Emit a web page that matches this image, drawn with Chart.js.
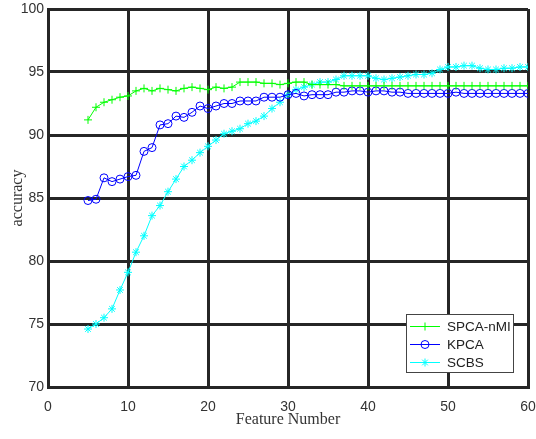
<!DOCTYPE html>
<html>
<head>
<meta charset="utf-8">
<script src="https://cdn.jsdelivr.net/npm/chart.js@4"></script>
<style>
  html, body { margin: 0; padding: 0; background: #fff; }
  #wrap { width: 536px; height: 439px; }
</style>
</head>
<body>
<div id="wrap"><canvas id="chart" width="536" height="439"></canvas></div>
<script>
/* ── Data ── */
const featureNumbers = [5, 6, 7, 8, 9, 10, 11, 12, 13, 14, 15, 16, 17, 18, 19, 20,
  21, 22, 23, 24, 25, 26, 27, 28, 29, 30, 31, 32, 33, 34, 35, 36, 37, 38, 39, 40,
  41, 42, 43, 44, 45, 46, 47, 48, 49, 50, 51, 52, 53, 54, 55, 56, 57, 58, 59, 60];

const spcaNmi = [91.2, 92.2, 92.6, 92.8, 93.0, 93.1, 93.5, 93.7, 93.5, 93.7, 93.6, 93.5,
  93.7, 93.8, 93.7, 93.6, 93.8, 93.7, 93.8, 94.2, 94.2, 94.2, 94.1, 94.1, 94.0, 94.1,
  94.2, 94.2, 94.0, 94.0, 94.0, 94.0, 93.9, 93.9, 93.9, 93.9, 93.9, 93.9, 93.9, 93.9,
  93.9, 93.9, 93.9, 93.9, 93.9, 93.9, 93.9, 93.9, 93.9, 93.9, 93.9, 93.9, 93.9, 93.9,
  93.9, 93.9];

const kpca = [84.8, 84.9, 86.6, 86.3, 86.5, 86.7, 86.8, 88.7, 89.0, 90.8, 90.9, 91.5,
  91.4, 91.8, 92.3, 92.1, 92.3, 92.5, 92.5, 92.7, 92.7, 92.7, 93.0, 93.0, 93.0, 93.2,
  93.3, 93.1, 93.2, 93.2, 93.2, 93.4, 93.4, 93.5, 93.5, 93.4, 93.5, 93.5, 93.4, 93.4,
  93.3, 93.3, 93.3, 93.3, 93.3, 93.3, 93.4, 93.3, 93.3, 93.3, 93.3, 93.3, 93.3, 93.3,
  93.3, 93.3];

const scbs = [74.6, 75.0, 75.5, 76.2, 77.7, 79.1, 80.7, 82.0, 83.6, 84.4, 85.5, 86.5,
  87.5, 88.0, 88.6, 89.1, 89.6, 90.1, 90.3, 90.5, 90.9, 91.1, 91.5, 92.1, 92.6, 93.2,
  93.6, 93.8, 94.0, 94.2, 94.2, 94.4, 94.7, 94.7, 94.7, 94.7, 94.5, 94.4, 94.5, 94.6,
  94.7, 94.8, 94.8, 94.9, 95.2, 95.4, 95.4, 95.5, 95.5, 95.3, 95.2, 95.2, 95.3, 95.3,
  95.4, 95.4];

const seriesNames = ['SPCA-nMI', 'KPCA', 'SCBS'];
const seriesColors = ['#00ff00', '#0000ff', '#00ffff'];
const seriesMarkers = ['cross', 'circle', 'star'];

/* ── Shared styling ── */
const AXIS_COLOR = '#262626';
const TICK_FONT  = { family: '"Liberation Sans", Arial, sans-serif', size: 14 };
const TITLE_FONT = { family: '"Liberation Serif", "Times New Roman", serif', size: 16 };

const toPoints = vals => vals.map((v, i) => ({ x: featureNumbers[i], y: v }));

function makeDataset(i, vals) {
  return {
    label: seriesNames[i],
    data: toPoints(vals),
    borderColor: seriesColors[i],
    backgroundColor: 'rgba(0,0,0,0)',
    borderWidth: 1,
    pointStyle: seriesMarkers[i],
    pointRadius: 4,
    pointBorderWidth: 1,
    pointBorderColor: seriesColors[i],
    pointBackgroundColor: 'rgba(0,0,0,0)',
    tension: 0,
  };
}

/* ── Legend drawn inside the plot, bottom-right ── */
const innerLegend = {
  id: 'innerLegend',
  afterDraw(chart) {
    const ctx = chart.ctx;
    const box = { x: 406, y: 314, w: 107, h: 58 };
    ctx.save();
    ctx.fillStyle = '#fff';
    ctx.fillRect(box.x, box.y, box.w, box.h);
    ctx.strokeStyle = '#444';
    ctx.lineWidth = 1;
    ctx.strokeRect(box.x + 0.5, box.y + 0.5, box.w, box.h);

    chart.data.datasets.forEach((ds, i) => {
      const y = box.y + 12 + i * 18;
      ctx.strokeStyle = ds.borderColor;
      ctx.lineWidth = 1;
      ctx.beginPath();
      ctx.moveTo(box.x + 4, y + 0.5);
      ctx.lineTo(box.x + 34, y + 0.5);
      ctx.stroke();
      ctx.fillStyle = 'rgba(0,0,0,0)';
      Chart.helpers.drawPoint(ctx, {
        pointStyle: ds.pointStyle, radius: 4, rotation: 0, borderWidth: 1,
      }, box.x + 19, y + 0.5);
      ctx.fillStyle = '#222';
      ctx.font = '13.5px "Liberation Sans", Arial, sans-serif';
      ctx.textBaseline = 'middle';
      ctx.textAlign = 'left';
      ctx.fillText(ds.label, box.x + 41, y + 1);
    });
    ctx.restore();
  },
};

new Chart(document.getElementById('chart'), {
  type: 'line',
  data: {
    datasets: [
      makeDataset(0, spcaNmi),
      makeDataset(1, kpca),
      makeDataset(2, scbs),
    ],
  },
  options: {
    responsive: false,
    animation: false,
    layout: { padding: { top: 9, right: 8, left: 0, bottom: 0 } },
    plugins: {
      legend: { display: false },
      tooltip: { enabled: false },
    },
    scales: {
      x: {
        type: 'linear',
        min: 0,
        max: 60,
        // fixed height, and let the end labels hang over the edges
        afterFit: s => { s.height = 52; s.paddingLeft = 0; s.paddingRight = 0; },
        ticks: { stepSize: 10, color: '#333', font: TICK_FONT, padding: 12, maxRotation: 0 },
        grid: { color: AXIS_COLOR, lineWidth: 3, drawTicks: false },
        border: { color: AXIS_COLOR, width: 3 },
        title: {
          display: true, text: 'Feature Number', color: '#333', font: TITLE_FONT,
          padding: { top: 10, bottom: 10 },
        },
      },
      y: {
        min: 70,
        max: 100,
        afterFit: s => { s.width = 48; s.paddingTop = 0; s.paddingBottom = 0; },
        ticks: { stepSize: 5, color: '#333', font: TICK_FONT, padding: 4 },
        grid: { color: AXIS_COLOR, lineWidth: 3, drawTicks: false },
        border: { color: AXIS_COLOR, width: 3 },
        title: {
          display: true, text: 'accuracy', color: '#333', font: TITLE_FONT,
          padding: { top: 8, bottom: 8 },
        },
      },
    },
  },
  plugins: [innerLegend],
});
</script>
</body>
</html>
